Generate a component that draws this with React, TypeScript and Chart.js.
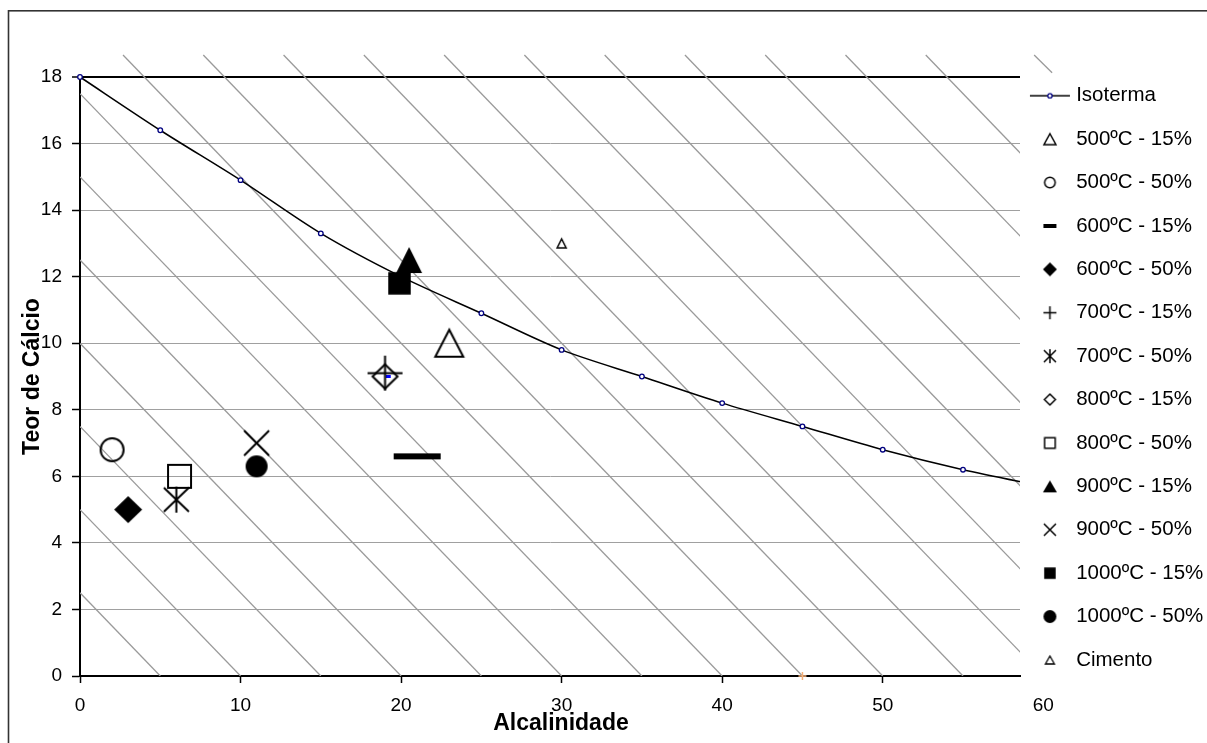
import React, { useEffect, useRef } from 'react';
import { Chart, registerables } from 'chart.js';

Chart.register(...registerables);

const FONT = "'Liberation Sans', Arial, Helvetica, sans-serif";

// ---- axes ----
const xTicks = [0, 10, 20, 30, 40, 50, 60];
const yTicks = [0, 2, 4, 6, 8, 10, 12, 14, 16, 18];
const xTitle = 'Alcalinidade';
const yTitle = 'Teor de Cálcio';

// ---- Isoterma ----
const isoLabel = 'Isoterma';
const isoX = [0, 5, 10, 15, 20, 25, 30, 35, 40, 45, 50, 55, 60];
const isoY = [18, 16.4, 14.9, 13.3, 12.0, 10.9, 9.8, 9.0, 8.2, 7.5, 6.8, 6.2, 5.7];

// ---- samples ----
const sampleLabels = [
  '500ºC - 15%', '500ºC - 50%', '600ºC - 15%', '600ºC - 50%', '700ºC - 15%', '700ºC - 50%',
  '800ºC - 15%', '800ºC - 50%', '900ºC - 15%', '900ºC - 50%', '1000ºC - 15%', '1000ºC - 50%', 'Cimento',
];
const sampleX = [23, 2, 21, 3, 19, 6, 19, 6.2, 20.5, 11, 19.9, 11, 30];
const sampleY = [10, 6.8, 6.6, 5, 9.1, 5.3, 9.0, 6.0, 12.5, 7.0, 11.8, 6.3, 13];

// ---- unlabelled stray points ----
const extraX = [45, 19.2];
const extraY = [0, 9.0];

// ---- hatch lines (start / end points) ----
const hatchX1 = [0, 0, 0, 0, 0, 0, 0, 2.68, 7.68, 12.68, 17.68, 22.68, 27.68, 32.68, 37.68, 42.68, 47.68, 52.68];
const hatchY1 = [2.5, 5, 7.5, 10, 12.5, 15, 17.5, 18.66, 18.66, 18.66, 18.66, 18.66, 18.66, 18.66, 18.66, 18.66, 18.66, 18.66];
const hatchX2 = [5, 10, 15, 20, 25, 30, 35, 40, 45, 50, 55, 60, 65, 70, 75, 80, 85, 90];
const hatchY2 = [0, 0, 0, 0, 0, 0, 0, 0, 0, 0, 0, 0, 0, 0, 0, 0, 0, 0];
const strayX = [59.43, 60.55];
const strayY = [18.66, 18.13];

// ---- marker styles ----
const sampleShapes = ['triangle', 'circle', 'dash', 'diamond', 'plus', 'star', 'diamond', 'square', 'triangle', 'x', 'square', 'circle', 'triangle'];
const sampleFilled = [false, false, true, true, false, false, false, false, true, false, true, true, false];
const chartMarkerW = [28, 23, 47, 28, 35, 25, 25, 23, 26, 25, 22.5, 22, 9];
const chartMarkerH = [27, 23, 6, 27, 35, 24, 24, 23, 26, 25, 22.5, 22, 9];
const chartMarkerLW = [2, 2, 0, 0, 2, 2, 2, 2, 0, 2, 0, 0, 1.5];
const legendMarkerW = [12, 10.5, 13, 14, 13, 12, 11, 10.5, 14, 12, 11.5, 13, 9];
const legendMarkerH = [11, 10.5, 4, 14, 13, 12, 11, 10.5, 12, 12, 11.5, 13, 8];
const legendMarkerLW = [1.5, 1.5, 0, 0, 1.5, 1.5, 1.5, 1.5, 0, 1.5, 0, 0, 1.3];

function makeMarker(shape: string, w: number, h: number, filled: boolean, lw: number, color: string): HTMLCanvasElement {
  const pad = Math.ceil(lw) + 1;
  const c = document.createElement('canvas');
  c.width = Math.ceil(w + 2 * pad);
  c.height = Math.ceil(h + 2 * pad);
  const ctx = c.getContext('2d') as CanvasRenderingContext2D;
  const cx = c.width / 2;
  const cy = c.height / 2;
  const l = cx - w / 2, r = cx + w / 2, t = cy - h / 2, b = cy + h / 2;
  ctx.lineWidth = lw || 1;
  ctx.strokeStyle = color;
  ctx.fillStyle = color;
  ctx.lineCap = 'butt';
  ctx.beginPath();
  let fill = filled;
  switch (shape) {
    case 'triangle':
      ctx.moveTo(cx, t); ctx.lineTo(r, b); ctx.lineTo(l, b); ctx.closePath();
      break;
    case 'circle':
      ctx.ellipse(cx, cy, w / 2, h / 2, 0, 0, Math.PI * 2);
      break;
    case 'square':
      ctx.rect(l, t, w, h);
      break;
    case 'diamond':
      ctx.moveTo(cx, t); ctx.lineTo(r, cy); ctx.lineTo(cx, b); ctx.lineTo(l, cy); ctx.closePath();
      break;
    case 'dash':
      ctx.rect(l, t, w, h); fill = true;
      break;
    case 'plus':
      ctx.moveTo(l, cy); ctx.lineTo(r, cy); ctx.moveTo(cx, t); ctx.lineTo(cx, b); fill = false;
      break;
    case 'x':
      ctx.moveTo(l, t); ctx.lineTo(r, b); ctx.moveTo(r, t); ctx.lineTo(l, b); fill = false;
      break;
    case 'star':
      ctx.moveTo(l, t); ctx.lineTo(r, b); ctx.moveTo(r, t); ctx.lineTo(l, b);
      ctx.moveTo(cx, t - 1); ctx.lineTo(cx, b + 1); fill = false;
      break;
  }
  if (fill) ctx.fill(); else ctx.stroke();
  return c;
}

function makeIsoLegend(): HTMLCanvasElement {
  const c = document.createElement('canvas');
  c.width = 42; c.height = 8;
  const ctx = c.getContext('2d') as CanvasRenderingContext2D;
  ctx.strokeStyle = '#000'; ctx.lineWidth = 1.5;
  ctx.beginPath(); ctx.moveTo(1, 4); ctx.lineTo(41, 4); ctx.stroke();
  ctx.beginPath(); ctx.arc(21, 4, 2.2, 0, Math.PI * 2);
  ctx.fillStyle = '#fff'; ctx.fill();
  ctx.strokeStyle = '#00007f'; ctx.lineWidth = 1.3; ctx.stroke();
  return c;
}

const framePlugin = {
  id: 'frame',
  beforeDraw(chart: any) {
    const ctx = chart.ctx;
    ctx.save();
    ctx.fillStyle = '#fff';
    ctx.fillRect(0, 0, chart.width, chart.height);
    ctx.strokeStyle = '#333';
    ctx.lineWidth = 1.6;
    ctx.strokeRect(8.5, 10.8, chart.width + 20, chart.height + 20);
    ctx.restore();
  },
};

// positions the legend and centres the x title under the full 0–60 axis
const layoutTweaks = {
  id: 'layoutTweaks',
  afterLayout(chart: any) {
    const lg = chart.legend;
    if (lg) {
      lg.left = 1011;
      lg.top = 62.6;
    }
    const sx = chart.scales && chart.scales.x;
    if (sx && !sx.__titlePatched) {
      const orig = sx.drawTitle;
      sx.drawTitle = function (this: any) {
        const r = this.right;
        this.right = r + 22;
        orig.call(this);
        this.right = r;
      };
      sx.__titlePatched = true;
    }
  },
};

export default function App() {
  const ref = useRef<HTMLCanvasElement>(null);

  useEffect(() => {
    const canvas = ref.current;
    if (!canvas) return;
    Chart.defaults.font.family = FONT;
    Chart.defaults.color = '#000';

    const chartImgs = sampleShapes.map((s, i) =>
      makeMarker(s, chartMarkerW[i], chartMarkerH[i], sampleFilled[i], chartMarkerLW[i], '#000'));
    const legendImgs = [makeIsoLegend(), ...sampleShapes.map((s, i) =>
      makeMarker(s, legendMarkerW[i], legendMarkerH[i], sampleFilled[i], legendMarkerLW[i], '#000'))];
    const legendTexts = [isoLabel, ...sampleLabels];

    const datasets: any[] = [];
    datasets.push({
      label: isoLabel,
      order: 1,
      data: isoX.map((x, i) => ({ x, y: isoY[i] })),
      showLine: true,
      borderColor: '#000',
      borderWidth: 1.5,
      tension: 0.3,
      pointStyle: 'circle',
      pointRadius: 2.3,
      pointBorderColor: '#00007f',
      pointBackgroundColor: '#ffffff',
      pointBorderWidth: 1.3,
      clip: { left: 6, top: 6, right: 0, bottom: 0 },
    });
    sampleLabels.forEach((label, i) => {
      datasets.push({
        label,
        order: 0,
        data: [{ x: sampleX[i], y: sampleY[i] }],
        showLine: false,
        pointStyle: chartImgs[i],
        pointRadius: 10,
        clip: false,
      });
    });
    datasets.push({
      label: '',
      order: 0,
      data: [{ x: extraX[0], y: extraY[0] }],
      showLine: false,
      pointStyle: 'cross',
      pointRadius: 4,
      pointBorderColor: '#f5b07a',
      pointBorderWidth: 1.5,
      clip: false,
    });
    datasets.push({
      label: '',
      order: 0,
      data: [{ x: extraX[1], y: extraY[1] }],
      showLine: false,
      pointStyle: makeMarker('square', 5, 3, true, 0, '#0000ff'),
      pointRadius: 3,
      clip: false,
    });
    hatchX1.forEach((x1, i) => {
      datasets.push({
        label: '',
        order: 2,
        data: [{ x: x1, y: hatchY1[i] }, { x: hatchX2[i], y: hatchY2[i] }],
        showLine: true,
        borderColor: '#9a9a9a',
        borderWidth: 1.3,
        pointRadius: 0,
        clip: { left: 0, top: false, right: 0, bottom: 0 },
      });
    });
    datasets.push({
      label: '',
      order: 2,
      data: strayX.map((x, i) => ({ x, y: strayY[i] })),
      showLine: true,
      borderColor: '#9a9a9a',
      borderWidth: 1.3,
      pointRadius: 0,
      clip: false,
    });

    const chart = new Chart(canvas, {
      type: 'scatter',
      data: { datasets },
      plugins: [framePlugin, layoutTweaks],
      options: {
        responsive: false,
        animation: false,
        events: [],
        layout: { padding: { top: 77, left: 0, right: 0, bottom: 0 } },
        plugins: {
          tooltip: { enabled: false },
          legend: {
            position: 'right',
            align: 'start',
            maxWidth: 187,
            labels: {
              usePointStyle: true,
              pointStyleWidth: 32,
              padding: 22.9,
              color: '#000',
              font: { size: 20.5, family: FONT },
              generateLabels: () =>
                legendTexts.map((text, i) => ({
                  text,
                  pointStyle: legendImgs[i],
                  fillStyle: '#000',
                  strokeStyle: '#000',
                  fontColor: '#000',
                  lineWidth: 1,
                  hidden: false,
                  datasetIndex: i,
                })),
            },
          },
        },
        scales: {
          x: {
            type: 'linear',
            min: 0,
            max: 58.55,
            afterBuildTicks: (s: any) => { s.ticks = xTicks.map((v) => ({ value: v })); },
            afterFit: (s: any) => { s.height = 67; },
            ticks: { autoSkip: false, maxRotation: 0, minRotation: 0, padding: 11, color: '#000', font: { size: 19, family: FONT } },
            grid: {
              drawOnChartArea: false,
              drawTicks: true,
              tickLength: 7,
              tickColor: (c: any) => (c.tick && c.tick.value > 58.55 ? 'rgba(0,0,0,0)' : '#000'),
              tickWidth: 1.5,
            },
            border: { display: true, color: '#000', width: 2 },
            title: { display: true, text: xTitle, color: '#000', font: { size: 23, weight: 'bold', family: FONT }, padding: { top: 0, bottom: 5.7 } },
          },
          y: {
            type: 'linear',
            min: 0,
            max: 18,
            afterBuildTicks: (s: any) => { s.ticks = yTicks.map((v) => ({ value: v })); },
            afterFit: (s: any) => { s.width = 80; },
            ticks: { padding: 10, color: '#000', font: { size: 19, family: FONT } },
            grid: {
              color: (c: any) => (c.tick && c.tick.value === 18 ? '#000' : '#a0a0a0'),
              lineWidth: (c: any) => (c.tick && c.tick.value === 18 ? 2 : 1),
              drawTicks: true,
              tickLength: 8,
              tickColor: '#000',
              tickWidth: 1.5,
            },
            border: { display: true, color: '#000', width: 2 },
            title: { display: true, text: yTitle, color: '#000', font: { size: 23, weight: 'bold', family: FONT }, padding: { top: 18.5, bottom: 0 } },
          },
        },
      } as any,
    });
    return () => chart.destroy();
  }, []);

  return (
    <div style={{ position: 'fixed', left: 0, top: 0, width: 1207, height: 743, background: '#fff', overflow: 'hidden' }}>
      <canvas ref={ref} width={1207} height={743} style={{ display: 'block' }} />
    </div>
  );
}
